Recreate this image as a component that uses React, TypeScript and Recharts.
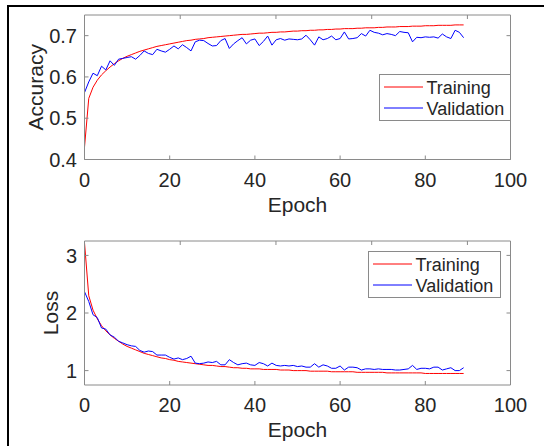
import { LineChart, Line, XAxis, YAxis, Legend } from "recharts";

const epochs = [
  0, 1, 2, 3, 4, 5, 6, 7, 8, 9, 10, 11, 12, 13, 14, 15, 16, 17, 18, 19, 20, 21, 22, 23, 24, 25, 26, 27, 28, 29,
  30, 31, 32, 33, 34, 35, 36, 37, 38, 39, 40, 41, 42, 43, 44, 45, 46, 47, 48, 49, 50, 51, 52, 53, 54, 55, 56, 57, 58, 59,
  60, 61, 62, 63, 64, 65, 66, 67, 68, 69, 70, 71, 72, 73, 74, 75, 76, 77, 78, 79, 80, 81, 82, 83, 84, 85, 86, 87, 88, 89,
];

const trainAcc = [
  0.43, 0.548, 0.575, 0.592, 0.605, 0.615, 0.624, 0.632, 0.639, 0.645,
  0.65, 0.654, 0.658, 0.662, 0.665, 0.668, 0.671, 0.674, 0.676, 0.678,
  0.68, 0.682, 0.684, 0.686, 0.688, 0.689, 0.691, 0.692, 0.693, 0.695,
  0.696, 0.697, 0.698, 0.699, 0.7, 0.701, 0.702, 0.703, 0.703, 0.704,
  0.705, 0.706, 0.706, 0.707, 0.708, 0.708, 0.709, 0.709, 0.71, 0.711,
  0.711, 0.712, 0.712, 0.713, 0.713, 0.714, 0.714, 0.715, 0.715, 0.716,
  0.716, 0.717, 0.717, 0.717, 0.718, 0.718, 0.719, 0.719, 0.719, 0.72,
  0.72, 0.721, 0.721, 0.721, 0.722, 0.722, 0.722, 0.723, 0.723, 0.723,
  0.724, 0.724, 0.724, 0.725, 0.725, 0.725, 0.725, 0.726, 0.726, 0.726,
];

const valAcc = [
  0.562, 0.588, 0.609, 0.603, 0.626, 0.617, 0.639, 0.628, 0.643, 0.645,
  0.647, 0.649, 0.643, 0.652, 0.663, 0.657, 0.654, 0.667, 0.663, 0.66,
  0.667, 0.675, 0.668, 0.678, 0.671, 0.663, 0.685, 0.689, 0.688, 0.681,
  0.675, 0.676, 0.688, 0.693, 0.669, 0.68, 0.688, 0.695, 0.68, 0.689,
  0.692, 0.676, 0.686, 0.699, 0.677, 0.69, 0.693, 0.689, 0.692, 0.691,
  0.69, 0.692, 0.701, 0.69, 0.677, 0.697, 0.69, 0.693, 0.699, 0.69,
  0.693, 0.709, 0.692, 0.693, 0.695, 0.705, 0.699, 0.713, 0.708, 0.706,
  0.702, 0.705, 0.703, 0.7, 0.71, 0.708, 0.707, 0.685, 0.696, 0.695,
  0.697, 0.696, 0.697, 0.694, 0.704, 0.697, 0.693, 0.713, 0.708, 0.695,
];

const trainLoss = [
  3.22, 2.3, 2.05, 1.9, 1.78, 1.69, 1.62, 1.56, 1.51, 1.46,
  1.42, 1.39, 1.36, 1.33, 1.3, 1.28, 1.26, 1.24, 1.22, 1.21,
  1.19, 1.18, 1.16, 1.15, 1.14, 1.13, 1.12, 1.11, 1.1, 1.09,
  1.09, 1.08, 1.07, 1.07, 1.06, 1.05, 1.05, 1.04, 1.04, 1.03,
  1.03, 1.03, 1.02, 1.02, 1.02, 1.02, 1.01, 1.01, 1.01, 1.0,
  1.0, 1.0, 1.0, 0.99, 0.99, 0.99, 0.99, 0.99, 0.98, 0.98,
  0.98, 0.98, 0.98, 0.98, 0.97, 0.97, 0.97, 0.97, 0.97, 0.97,
  0.97, 0.96, 0.96, 0.96, 0.96, 0.96, 0.96, 0.96, 0.96, 0.96,
  0.95, 0.95, 0.95, 0.95, 0.95, 0.95, 0.95, 0.95, 0.95, 0.95,
];

const valLoss = [
  2.37, 2.2, 1.97, 1.92, 1.74, 1.72, 1.62, 1.58, 1.51, 1.48,
  1.45, 1.43, 1.42, 1.35, 1.32, 1.34, 1.33, 1.27, 1.27, 1.27,
  1.23, 1.2, 1.22, 1.19, 1.21, 1.25, 1.13, 1.12, 1.13, 1.15,
  1.14, 1.16, 1.1, 1.1, 1.19, 1.14, 1.1, 1.12, 1.13, 1.1,
  1.09, 1.14, 1.12, 1.08, 1.13, 1.09, 1.08, 1.09, 1.08, 1.09,
  1.07, 1.08, 1.06, 1.06, 1.12, 1.06, 1.1, 1.08, 1.04, 1.04,
  1.08, 1.01, 1.06, 1.06, 1.05, 1.01, 1.03, 1.03, 1.02, 1.03,
  1.02, 1.02, 1.02, 1.01, 1.01, 1.02, 1.03, 1.09, 1.02, 1.04,
  1.04, 1.03, 1.06, 1.06, 1.01, 1.03, 1.05, 1.0, 1.0, 1.05,
];

const xTicks = [0, 20, 40, 60, 80, 100];
const accTicks = [0.4, 0.5, 0.6, 0.7];
const lossTicks = [1, 2, 3];

const FONT = "'Liberation Sans', Arial, sans-serif";
const BOX = "#8a8a8a";
const INK = "#262626";
const TICK_LEN = 4;

const accData = epochs.map((e, i) => ({ epoch: e, train: trainAcc[i], val: valAcc[i] }));
const lossData = epochs.map((e, i) => ({ epoch: e, train: trainLoss[i], val: valLoss[i] }));

// matlab style: ticks point into the box
const BottomTick = ({ x, y, payload }: any) => (
  <g>
    <line x1={x} y1={y} x2={x} y2={y - TICK_LEN} stroke={BOX} />
    <text x={x} y={y + 27} textAnchor="middle" fontSize={20} fontFamily={FONT} fill={INK}>
      {payload.value}
    </text>
  </g>
);
const TopTick = ({ x, y }: any) => <line x1={x} y1={y} x2={x} y2={y + TICK_LEN} stroke={BOX} />;
const LeftTick = ({ x, y, payload }: any) => (
  <g>
    <line x1={x} y1={y} x2={x + TICK_LEN} y2={y} stroke={BOX} />
    <text x={x - 7.5} y={y + 7.2} textAnchor="end" fontSize={20} fontFamily={FONT} fill={INK}>
      {payload.value}
    </text>
  </g>
);
const RightTick = ({ x, y }: any) => <line x1={x} y1={y} x2={x - TICK_LEN} y2={y} stroke={BOX} />;

function LegendBox({ width }: { width: number }) {
  return (
    <svg width={width} height={47} style={{ display: "block" }}>
      <rect x={0.5} y={0.5} width={width - 1} height={46} fill="#fff" stroke={BOX} />
      <line x1={5} y1={13} x2={44} y2={13} stroke="#ff0000" />
      <line x1={5} y1={34} x2={44} y2={34} stroke="#0000ff" />
      <text x={47.5} y={19.5} fontSize={18} fontFamily={FONT} fill={INK}>Training</text>
      <text x={47.5} y={40.5} fontSize={18} fontFamily={FONT} fill={INK}>Validation</text>
    </svg>
  );
}

function Panel({
  data, top, height, margin, domain, yTicks, yTitle, yTitleX, legendPos,
}: any) {
  return (
    <div style={{ position: "absolute", left: 0, top, width: 544, height }}>
      <LineChart width={544} height={height} data={data} margin={margin}>
        <XAxis
          xAxisId="b" dataKey="epoch" type="number" domain={[0, 100]} ticks={xTicks}
          height={1} tickSize={0} tickMargin={0} tickLine={false} tick={<BottomTick />}
          axisLine={{ stroke: BOX }} allowDataOverflow
          label={{
            content: (p: any) => (
              <text
                x={p.viewBox.x + p.viewBox.width / 2} y={p.viewBox.y + 52}
                textAnchor="middle" fontSize={21} fontFamily={FONT} fill={INK}
              >
                Epoch
              </text>
            ),
          }}
        />
        <XAxis
          xAxisId="t" orientation="top" type="number" domain={[0, 100]} ticks={[20, 40, 60, 80]}
          height={1} tickSize={0} tickMargin={0} tickLine={false} tick={<TopTick />}
          axisLine={{ stroke: BOX }} allowDataOverflow
        />
        <YAxis
          yAxisId="l" type="number" domain={domain} ticks={yTicks} width={1}
          tickSize={0} tickMargin={0} tickLine={false} tick={<LeftTick />}
          axisLine={{ stroke: BOX }} allowDataOverflow
          label={{
            content: (p: any) => {
              const cy = p.viewBox.y + p.viewBox.height / 2;
              return (
                <text
                  x={yTitleX} y={cy} transform={`rotate(-90 ${yTitleX} ${cy})`}
                  textAnchor="middle" dominantBaseline="central"
                  fontSize={21} fontFamily={FONT} fill={INK}
                >
                  {yTitle}
                </text>
              );
            },
          }}
        />
        <YAxis
          yAxisId="r" orientation="right" type="number" domain={domain} ticks={yTicks} width={1}
          tickSize={0} tickMargin={0} tickLine={false} tick={<RightTick />}
          axisLine={{ stroke: BOX }} allowDataOverflow
        />
        <Legend
          layout="vertical" align="center" verticalAlign="middle"
          wrapperStyle={{ left: legendPos.left, top: legendPos.top, width: legendPos.width, height: 47 }}
          content={() => <LegendBox width={legendPos.width} />}
        />
        <Line
          xAxisId="b" yAxisId="l" type="linear" dataKey="train" name="Training"
          stroke="#ff0000" strokeWidth={1} dot={false} isAnimationActive={false}
        />
        <Line
          xAxisId="b" yAxisId="l" type="linear" dataKey="val" name="Validation"
          stroke="#0000ff" strokeWidth={1} dot={false} isAnimationActive={false}
        />
      </LineChart>
    </div>
  );
}

export default function App() {
  return (
    <div
      style={{
        position: "absolute", left: 0, top: 0, width: 544, height: 446,
        background: "#fff", overflow: "hidden",
      }}
    >
      <div
        style={{
          position: "absolute", left: 7, top: 5, right: 0, bottom: 0,
          borderTop: "2px solid #000", borderLeft: "2px solid #000",
        }}
      />
      <Panel
        data={accData} top={0} height={230}
        margin={{ top: 14, right: 32.5, bottom: 69.5, left: 83.5 }}
        domain={[0.4, 0.75]} yTicks={accTicks} yTitle="Accuracy" yTitleX={35}
        legendPos={{ left: 379, top: 74, width: 132 }}
      />
      <Panel
        data={lossData} top={230} height={216}
        margin={{ top: 10, right: 32.5, bottom: 60, left: 83.5 }}
        domain={[0.75, 3.25]} yTicks={lossTicks} yTitle="Loss" yTitleX={50}
        legendPos={{ left: 368, top: 21, width: 133 }}
      />
    </div>
  );
}
